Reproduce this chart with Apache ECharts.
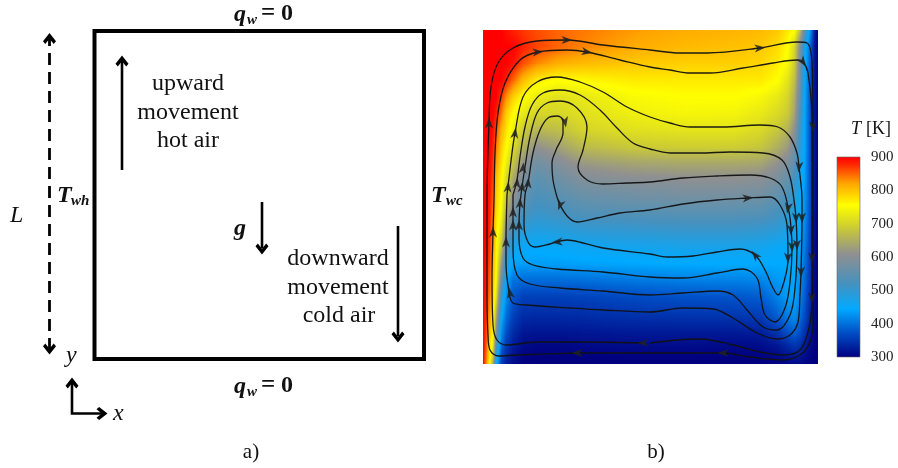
<!DOCTYPE html>
<html><head><meta charset="utf-8">
<style>html,body{margin:0;padding:0;background:#fff}#c{width:898px;height:468px}</style>
<script src="https://cdn.jsdelivr.net/npm/echarts@6/dist/echarts.min.js"></script>
</head><body><div id="c"></div>
<script>
// temperature colour scale (K -> colour)
const scaleT = [300,375,445,520,610,690,755,820,880,900];
const scaleC = [[0,0,127],[0,80,200],[0,170,255],[70,145,190],[144,144,144],[205,205,50],[255,255,0],[255,165,0],[255,32,0],[255,0,0]];
const colorTicks = [300,400,500,600,700,800,900];

// field nodes, percent of cavity width / height
const fieldX = [0,1,2,3,4,5.5,7,9,12,16,22,30,45,60,75,83,88,91,93,94.5,96,97.5,99,100];
const fieldY = [0,2,5,9,14,20,25,30,35,40,45,50,55,60,65,70,75,80,85,90,95,100];
const fieldT = [
[900,830,755,640,460,360,325,310,300,300,300,300,300,300,300,300,302,306,310,310,305,302,300,300],
[900,840,770,680,480,370,335,315,302,300,300,300,302,302,300,302,308,315,320,320,310,304,300,300],
[900,850,780,720,520,390,350,325,310,305,305,308,310,310,308,310,320,335,345,340,325,310,302,300],
[900,860,800,755,580,420,370,340,320,318,318,320,322,322,322,325,345,370,385,370,345,320,304,300],
[900,870,820,770,640,450,395,360,340,338,338,340,345,347,348,355,385,410,420,400,370,335,306,300],
[900,880,840,790,710,500,420,380,360,360,360,362,370,375,378,385,415,435,440,420,385,345,308,300],
[900,885,850,800,740,560,440,400,395,395,395,398,405,410,412,415,430,440,440,425,395,355,310,300],
[900,890,860,810,755,620,475,440,435,435,435,438,442,445,445,445,445,445,445,432,400,360,310,300],
[900,895,870,820,760,680,530,470,455,450,455,460,465,470,470,465,455,450,445,440,410,365,312,300],
[900,900,875,830,770,720,590,520,490,480,485,495,500,505,505,500,490,475,460,445,420,370,315,300],
[900,900,880,840,780,740,640,570,525,505,515,530,535,540,540,535,520,500,478,450,425,375,315,300],
[900,900,885,850,790,755,680,610,555,525,540,560,570,575,575,570,550,525,495,460,430,380,318,300],
[900,900,890,860,800,760,705,640,580,545,565,590,600,605,605,600,580,555,515,470,435,380,318,300],
[900,900,895,870,820,775,730,675,610,570,590,620,635,640,640,635,610,585,545,480,440,380,320,300],
[900,900,900,880,840,790,755,710,655,610,630,665,685,690,690,680,650,625,575,500,445,380,320,300],
[900,900,900,890,860,810,775,735,690,660,670,700,715,720,720,705,680,655,605,520,445,380,320,300],
[900,900,900,900,880,840,790,755,725,700,700,715,735,742,740,725,705,685,635,540,445,380,320,300],
[900,900,900,900,900,870,830,790,755,730,715,725,748,755,755,745,725,700,650,560,450,380,320,300],
[900,900,900,900,900,900,880,850,805,770,755,760,770,770,770,770,755,720,670,580,455,385,320,300],
[900,900,900,900,900,900,900,890,860,835,815,805,795,790,790,785,770,745,690,590,460,390,320,300],
[900,900,900,900,900,900,900,900,880,865,850,835,815,805,800,795,780,755,700,600,470,400,320,300],
[900,900,900,900,900,900,890,880,870,860,850,840,825,815,810,805,795,770,755,680,560,440,330,300]
];

// streamlines, read in page units
const lineA = [[577,353],[517,355],[498,356],[490,350],[488,335],[487,295],[487,200],[489,123],[491,87],[498,63],[513,48],[537,41],[567,40],[603,45],[650,50],[680,53],[707,53],[760,48],[797,42],[807,43],[812,63],[813,127],[813,200],[813,258],[813,295],[813,322],[810,342],[800,355],[783,360],[750,357],[723,353],[650,353],[577,353]];
const lineB = [[643,343],[587,342],[537,342],[507,345],[497,340],[493,325],[492,278],[493,232],[494,200],[495,153],[498,113],[505,83],[520,60],[538,52],[567,50],[587,52],[620,60],[650,67],[670,70],[690,73],[710,73],[743,68],[773,63],[797,60],[803,62],[808,73],[812,120],[812,200],[812,258],[812,298],[809,328],[800,350],[783,355],[760,352],[733,345],[700,339],[677,340],[650,343]];
const lineC = [[507,195],[512,153],[515,133],[523,97],[537,82],[557,77],[580,82],[603,92],[627,107],[650,117],[670,123],[690,127],[723,127],[760,125],[778,127],[790,137],[797,153],[799,167],[802,200],[802,218],[801,272],[800,295],[798,322],[790,335],[777,339],[757,333],[733,318],[713,309],[683,308],[650,312],[603,310],[570,308],[527,305],[513,303],[509,292],[506,262],[506,242],[507,195]];
const lineD = [[513,195],[517,180],[520,157],[525,127],[532,105],[543,93],[560,90],[580,95],[600,110],[617,128],[633,143],[650,149],[670,153],[700,153],[730,152],[763,153],[782,160],[790,177],[794,200],[796,218],[797,245],[795,288],[790,315],[777,330],[763,327],[747,310],[733,295],[717,291],[683,293],[650,295],[603,291],[560,288],[530,284],[517,275],[513,248],[513,225],[513,195]];
const lineE = [[520,203],[522,187],[525,167],[530,137],[537,113],[547,103],[560,101],[577,108],[587,127],[583,150],[578,167],[587,180],[603,184],[627,183],[650,182],[683,178],[717,176],[750,175],[770,178],[782,187],[789,212],[791,228],[792,248],[790,282],[785,308],[775,322],[765,315],[761,298],[757,278],[743,269],[717,273],[683,278],[650,277],[603,272],[557,269],[533,265],[523,258],[519,238],[519,225],[520,203]];
const lineF = [[557,197],[560,205],[568,217],[577,222],[597,218],[620,213],[650,210],[683,204],[717,200],[748,198],[770,197],[780,205],[787,225],[788,258],[785,278],[778,295],[773,288],[765,270],[755,255],[740,249],[717,252],[693,256],[667,257],[650,254],[603,248],[583,243],[567,240],[550,244],[535,247],[528,242],[524,225],[525,195],[528,183],[533,153],[540,130],[548,118],[557,116],[563,120],[563,133],[556,150],[552,163],[553,180],[557,197]];
// arrowheads on the streamlines: x, y, direction
const flowArrows = [
[567,40,-90],[760,48,-85],[813,127,180],[812,258,180],[812,298,180],[723,353,90],[577,353,90],[489,123,0],
[538,52,-85],[587,52,-100],[803,62,215],[643,343,90],[493,232,0],
[515,133,-8],[510,293,10],[506,242,0],[508,187,-5],[799,167,175],[802,218,180],[801,272,180],
[513,225,0],[513,212,0],[517,183,-5],[796,218,180],[797,245,180],
[519,225,0],[520,203,-3],[523,168,-5],[522,187,-5],[791,230,180],[792,247,180],
[565,122,190],[528,183,-5],[560,205,160],[748,198,-85],[788,258,180],[788,208,170],[755,255,40],[557,242,95]
];

// schematic, page units
const wallBox = [[94.5,31],[424,31],[424,359],[94.5,359],[94.5,31]];
const lengthArrow = [[49.5,350],[49.5,38]];
const upArrow = [[122,170],[122,60]];
const gArrow = [[262,202],[262,248]];
const downArrow = [[398,226],[398,336]];
const axisArrows = [[72,380],[72,413.5],[103,413.5]];
const heads = [[49.5,38.5,0],[49.5,349,180],[122,61,0],[262,249,180],[398,337,180],[72,383,0],[102,413.5,-90]];

const chart = echarts.init(document.getElementById('c'),null,{renderer:'canvas'});
function tColor(t){
  for(let i=1;i<scaleT.length;i++){ if(t<=scaleT[i]){
    const f=(t-scaleT[i-1])/(scaleT[i]-scaleT[i-1]),a=scaleC[i-1],b=scaleC[i];
    return 'rgb('+a.map((v,k)=>Math.round(v+(b[k]-v)*f)).join(',')+')';
  }}
  return 'rgb(255,0,0)';
}
function rowStops(r0,r1,f){
  const s=[];
  for(let j=0;j<fieldX.length-1;j++){
    for(let q=0;q<4;q++){
      const g=q/4, a=r0[j]+(r1[j]-r0[j])*f, b=r0[j+1]+(r1[j+1]-r0[j+1])*f;
      s.push({offset:(fieldX[j]+(fieldX[j+1]-fieldX[j])*g)/100,color:tColor(a+(b-a)*g)});
    }
  }
  const l=fieldX.length-1;
  s.push({offset:1,color:tColor(r0[l]+(r1[l]-r0[l])*f)});
  return s;
}
function renderBand(params,api){
  const i=api.value(0);
  const a=api.coord([0,fieldY[i]]), b=api.coord([100,fieldY[i+1]]);
  const yTop=Math.round(b[1]), yBot=Math.round(a[1]), kids=[];
  for(let y=yTop;y<yBot;y++){
    const f=(yBot-y-0.5)/(yBot-yTop);
    kids.push({type:'rect',silent:true,
      shape:{x:a[0],y:y,width:b[0]-a[0],height:1.5},
      style:{fill:new echarts.graphic.LinearGradient(0,0,1,0,rowStops(fieldT[i],fieldT[i+1],f))}});
  }
  return {type:'group',children:kids};
}
function renderBar(params,api){
  const a=api.coord([0,900]), b=api.coord([1,300]);
  const stops=scaleT.map((t,i)=>({offset:(900-t)/600,color:tColor(t)})).reverse();
  return {type:'rect',silent:true,shape:{x:a[0],y:a[1],width:b[0]-a[0],height:b[1]-a[1]},
    style:{fill:new echarts.graphic.LinearGradient(0,0,0,1,stops),stroke:'#666',lineWidth:0.6}};
}
const serif='"Liberation Serif","Times New Roman",serif';
function txt(text,x,y,font,align){
  return {type:'text',silent:true,z:50,style:{text:text,x:x,y:y,font:font+' '+serif,fill:'#111',align:align||'left',verticalAlign:'middle'}};
}
const R='24px',BI='italic bold 24px',BIS='italic bold 15px',B='bold 25px',I='italic 24px';
const texts=[
 txt('q',234,15,BI),txt('w',247,20,BIS),txt('=',261,14,B),txt('0',281,14,'bold 24px'),
 txt('q',234,387,BI),txt('w',247,392,BIS),txt('=',261,386,B),txt('0',281,386,'bold 24px'),
 txt('T',57,196,BI),txt('wh',71,201,BIS),
 txt('T',431,196,BI),txt('wc',446,201,BIS),
 txt('L',10,216,I),txt('g',234,229,BI),txt('y',66,356,I),txt('x',113,414,I),
 txt('upward',188,84,R,'center'),txt('movement',188,113,R,'center'),txt('hot air',188,141,R,'center'),
 txt('downward',338,259,R,'center'),txt('movement',338,288,R,'center'),txt('cold air',339,316,R,'center'),
 txt('a)',251,452,'21px','center'),txt('b)',656,452,'21px','center'),
 txt('T',851,129,'italic 18px'),txt('[K]',866,129,'18px')
];
const hidden={show:false};
function pageLine(data,width,extra){
  return Object.assign({type:'line',xAxisIndex:0,yAxisIndex:0,data:data,showSymbol:false,symbol:'none',silent:true,
    lineStyle:{color:'#000',width:width,cap:'butt'},animation:false,z:5},extra||{});
}
function stream(d){return pageLine(d,1.3,{smooth:0.35,lineStyle:{color:'#111',width:1.3,opacity:0.95},z:10});}
const chevron='path://M0,0L6.5,7L4.2,9.2L0,4.8L-4.2,9.2L-6.5,7Z';
const stealth='path://M0,0L4,11L0,8L-4,11Z';
chart.setOption({
 animation:false,
 graphic:texts,
 grid:[
  {left:0,top:0,width:898,height:468,show:false},
  {left:483,top:30,width:335,height:334,show:false},
  {left:837,top:157,width:23,height:200,show:false}
 ],
 xAxis:[
  {type:'value',gridIndex:0,min:0,max:898,show:false},
  {type:'value',gridIndex:1,min:0,max:100,show:false},
  {type:'value',gridIndex:2,min:0,max:1,show:false}
 ],
 yAxis:[
  {type:'value',gridIndex:0,min:0,max:468,inverse:true,show:false},
  {type:'value',gridIndex:1,min:0,max:100,show:false},
  {type:'value',gridIndex:2,min:colorTicks[0],max:colorTicks[colorTicks.length-1],interval:100,position:'right',
   axisLine:hidden,axisTick:hidden,splitLine:hidden,
   axisLabel:{show:true,margin:11,fontFamily:serif,fontSize:15,color:'#222'}}
 ],
 series:[
  {type:'custom',xAxisIndex:1,yAxisIndex:1,coordinateSystem:'cartesian2d',renderItem:renderBand,silent:true,animation:false,z:1,clip:true,
   encode:{x:-1,y:-1},data:fieldY.slice(0,-1).map((y,i)=>[i])},
  {type:'custom',xAxisIndex:2,yAxisIndex:2,coordinateSystem:'cartesian2d',renderItem:renderBar,silent:true,animation:false,z:1,
   encode:{x:-1,y:-1},data:[[0]]},
  pageLine(wallBox,4,{lineStyle:{color:'#000',width:4,join:'miter',cap:'square'}}),
  pageLine(lengthArrow,2.8,{lineStyle:{color:'#000',width:2.8,type:[12,7]}}),
  pageLine(upArrow,2.6),pageLine(gArrow,2.6),pageLine(downArrow,2.6),
  pageLine(axisArrows,2.6,{lineStyle:{color:'#000',width:2.6,join:'miter'}}),
  {type:'scatter',xAxisIndex:0,yAxisIndex:0,data:heads,symbol:chevron,symbolSize:[13,11],symbolKeepAspect:false,
   symbolRotate:v=>v[2],itemStyle:{color:'#000',opacity:1},silent:true,animation:false,z:6},
  stream(lineA),stream(lineB),stream(lineC),stream(lineD),stream(lineE),stream(lineF),
  {type:'scatter',xAxisIndex:0,yAxisIndex:0,data:flowArrows,symbol:stealth,symbolSize:[8,11],
   symbolRotate:v=>v[2],itemStyle:{color:'#222',opacity:0.85},silent:true,animation:false,z:11}
 ]
});
</script></body></html>
